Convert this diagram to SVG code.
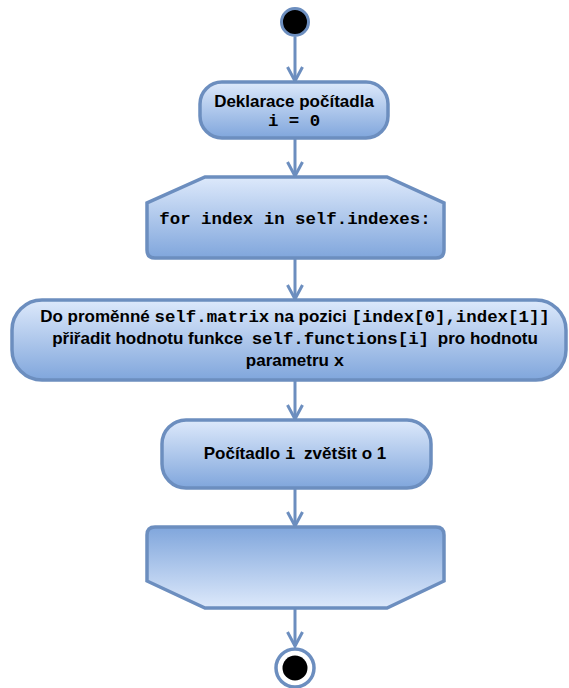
<svg xmlns="http://www.w3.org/2000/svg" width="569" height="688" viewBox="0 0 569 688">
  <defs>
    <linearGradient id="gDown" x1="0" y1="0" x2="0" y2="1">
      <stop offset="0" stop-color="#dde9fb"/>
      <stop offset="1" stop-color="#80a6dc"/>
    </linearGradient>
    <linearGradient id="gUp" x1="0" y1="0" x2="0" y2="1">
      <stop offset="0" stop-color="#80a6dc"/>
      <stop offset="1" stop-color="#dde9fb"/>
    </linearGradient>
    <marker id="arrow" markerUnits="userSpaceOnUse" markerWidth="20" markerHeight="20" refX="0" refY="0" viewBox="-16 -10 20 20" orient="auto">
      <path d="M-14,-7.5 L0,0 L-14,7.5" fill="none" stroke="#6c8ebf" stroke-width="3"/>
    </marker>
  </defs>
  <style>
    .box { stroke: #6c8ebf; stroke-width: 3.5; }
    .edge { stroke: #6c8ebf; stroke-width: 3; fill: none; marker-end: url(#arrow); }
    .t { font-family: "Liberation Sans", Arial, sans-serif; font-weight: bold; font-size: 17px; fill: #000; text-anchor: middle; }
    .m { font-family: "Liberation Mono", "Courier New", monospace; font-weight: bold; font-size: 17.4px; }
  </style>

  <g id="connectors">
    <line class="edge" x1="295" y1="37" x2="295" y2="81"/>
    <line class="edge" x1="295" y1="139" x2="295" y2="176"/>
    <line class="edge" x1="295" y1="259" x2="295" y2="299"/>
    <line class="edge" x1="295" y1="381" x2="295" y2="419"/>
    <line class="edge" x1="295" y1="489" x2="295" y2="526"/>
    <line class="edge" x1="295" y1="609" x2="295" y2="646"/>
  </g>

  <g id="start">
    <circle cx="295" cy="22" r="13.5" fill="#000" stroke="#6c8ebf" stroke-width="3"/>
  </g>

  <g id="init">
    <rect class="box" x="200" y="82" width="188" height="56" rx="22" fill="url(#gDown)"/>
    <text class="t" x="294" y="107">Deklarace počítadla</text>
    <text class="t" x="294" y="126"><tspan class="m">i = 0</tspan></text>
  </g>

  <g id="loop-start">
    <path class="box" d="M205,177 L387,177 L444,203 L444,250 Q444,258 436,258 L155,258 Q147,258 147,250 L147,203 Z" fill="url(#gDown)"/>
    <text class="t" x="295" y="224"><tspan class="m">for index in self.indexes:</tspan></text>
  </g>

  <g id="assign">
    <rect class="box" x="12" y="300" width="554" height="80" rx="30" fill="url(#gDown)"/>
    <text class="t" x="295" y="322">Do proměnné <tspan class="m">self.matrix</tspan> na pozici <tspan class="m">[index[0],index[1]]</tspan></text>
    <text class="t" x="295" y="344">přiřadit hodnotu funkce <tspan class="m" dx="4">self.functions[i]</tspan><tspan dx="4"> pro hodnotu</tspan></text>
    <text class="t" x="295" y="366">parametru <tspan class="m">x</tspan></text>
  </g>

  <g id="increment">
    <rect class="box" x="162" y="420" width="269" height="68" rx="24" fill="url(#gDown)"/>
    <text class="t" x="295" y="459">Počítadlo <tspan class="m">i</tspan><tspan dx="4"> zvětšit o 1</tspan></text>
  </g>

  <g id="loop-end">
    <path class="box" d="M155,527 L436,527 Q444,527 444,535 L444,581 L387,608 L205,608 L147,581 L147,535 Q147,527 155,527 Z" fill="url(#gUp)"/>
  </g>

  <g id="end">
    <circle cx="295" cy="668" r="19" fill="#fff" stroke="#6c8ebf" stroke-width="3.5"/>
    <circle cx="295" cy="668" r="12.5" fill="#000"/>
  </g>
</svg>
